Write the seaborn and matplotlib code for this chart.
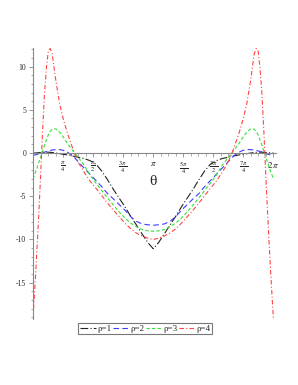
import numpy as np
import pandas as pd
import matplotlib
matplotlib.use("Agg")
import matplotlib.pyplot as plt
import seaborn as sns

#### data ####
theta = [0.0, 0.05, 0.1, 0.15, 0.2, 0.25, 0.3, 0.35, 0.4, 0.45, 0.5, 0.6, 0.7,
         0.8, 0.9, 1.0, 1.1, 1.2, 1.35, 1.5, 1.65, 1.8, 1.95, 2.1, 2.25, 2.4,
         2.55, 2.7, 2.85, 3.0, 3.1416,
         3.2832, 3.4332, 3.5832, 3.7332, 3.8832, 4.0332, 4.1832, 4.3332, 4.4832,
         4.6332, 4.7832, 4.9332, 5.0832, 5.1832, 5.2832, 5.3832, 5.4832, 5.5832,
         5.6832, 5.7832, 5.8332, 5.8832, 5.9332, 5.9832, 6.0332, 6.0832, 6.1332,
         6.1832, 6.2332, 6.2832]

rho1 = [0.0, 0.0, 0.02, 0.04, 0.06, 0.08, 0.1, 0.1, 0.1, 0.08, 0.06, 0.0, -0.08,
        -0.15, -0.22, -0.3, -0.4, -0.5, -0.65, -0.9, -1.3, -2.1, -3.1, -4.2, -5.2,
        -6.2, -7.3, -8.3, -9.35, -10.35, -11.07,
        -10.35, -9.35, -8.3, -7.3, -6.2, -5.2, -4.2, -3.1, -2.1, -1.3, -0.9, -0.65,
        -0.5, -0.4, -0.3, -0.22, -0.15, -0.08, 0.0, 0.06, 0.08, 0.1, 0.1, 0.1, 0.08,
        0.06, 0.04, 0.02, 0.0, 0.0]

rho2 = [-0.25, -0.22, -0.18, -0.12, -0.05, 0.02, 0.1, 0.18, 0.25, 0.3, 0.35, 0.4,
        0.4, 0.3, 0.1, -0.2, -0.6, -1.1, -1.8, -2.5, -3.2, -3.9, -4.7, -5.3, -5.95,
        -6.6, -7.35, -7.9, -8.2, -8.3, -8.35,
        -8.3, -8.2, -7.9, -7.35, -6.6, -5.95, -5.3, -4.7, -3.9, -3.2, -2.5, -1.8,
        -1.1, -0.6, -0.2, 0.1, 0.3, 0.4, 0.4, 0.35, 0.3, 0.25, 0.18, 0.1, 0.02,
        -0.05, -0.12, -0.18, -0.22, -0.25]

rho3 = [-3.0, -2.4, -1.8, -1.1, -0.5, 0.2, 0.9, 1.5, 2.1, 2.5, 2.75, 2.8, 2.4, 1.8,
        1.1, 0.5, -0.05, -0.6, -1.5, -2.6, -3.5, -4.35, -5.2, -6.0, -6.8, -7.5,
        -8.1, -8.5, -8.85, -9.0, -9.05,
        -9.0, -8.85, -8.5, -8.1, -7.5, -6.8, -6.0, -5.2, -4.35, -3.5, -2.6, -1.5,
        -0.6, -0.05, 0.5, 1.1, 1.8, 2.4, 2.8, 2.75, 2.5, 2.1, 1.5, 0.9, 0.2, -0.5,
        -1.1, -1.8, -2.4, -3.0]

rho4 = [-19.2, -15.5, -11.5, -7.2, -2.5, 2.5, 6.8, 9.8, 11.8, 12.1, 11.5, 8.3, 5.6,
        3.8, 2.3, 1.0, -0.2, -1.2, -2.3, -3.3, -4.1, -4.95, -5.8, -6.6, -7.35,
        -8.1, -8.75, -9.25, -9.6, -9.85, -10.0,
        -9.85, -9.6, -9.25, -8.75, -8.1, -7.35, -6.6, -5.8, -4.95, -4.1, -3.3,
        -2.3, -1.2, -0.2, 1.0, 2.3, 3.8, 5.6, 8.3, 11.5, 12.1, 11.8, 9.8, 6.8, 2.5,
        -2.5, -7.2, -11.5, -15.5, -19.2]

names = ["ρ=1", "ρ=2", "ρ=3", "ρ=4"]
xtick_pos = [np.pi / 4, np.pi / 2, 3 * np.pi / 4, np.pi, 5 * np.pi / 4,
             3 * np.pi / 2, 7 * np.pi / 4, 2 * np.pi]
xtick_lab = [r"$\frac{\pi}{4}$", r"$\frac{\pi}{2}$", r"$\frac{3\,\pi}{4}$",
             r"$\pi$", r"$\frac{5\,\pi}{4}$", r"$\frac{3\,\pi}{2}$",
             r"$\frac{7\,\pi}{4}$", r"$2\,\pi$"]
ytick_pos = [-15, -10, -5, 0, 5, 10]

#### long form table ####
frames = []
for name, vals in zip(names, [rho1, rho2, rho3, rho4]):
    frames.append(pd.DataFrame({"theta": theta, "value": vals, "rho": name}))
df = pd.concat(frames, ignore_index=True)

sns.set_style("white")
plt.rcParams["font.family"] = ["Liberation Serif", "DejaVu Serif"]
plt.rcParams["mathtext.fontset"] = "stix"
plt.rcParams["axes.unicode_minus"] = False

palette = {"ρ=1": "#222222", "ρ=2": "#3c3cff", "ρ=3": "#33e033", "ρ=4": "#ff4444"}
dashes = {"ρ=1": (7, 2, 1, 2), "ρ=2": (5, 3), "ρ=3": (3, 2), "ρ=4": (4, 2, 1, 2)}

fig = plt.figure(figsize=(2.98, 3.85), dpi=100)
ax = fig.add_axes([0.1107, 0.1714, 0.8154, 0.7039])
sns.lineplot(data=df, x="theta", y="value", hue="rho", style="rho",
             palette=palette, dashes=dashes, estimator=None, sort=False,
             linewidth=0.8, ax=ax)

ax.set_xlim(0, 6.35)
ax.set_ylim(-19.2, 12.15)
ax.set(xlabel="", ylabel="")

# maple style axes through the origin
for s in ["top", "right"]:
    ax.spines[s].set_visible(False)
ax.spines["left"].set_position(("data", 0))
ax.spines["bottom"].set_position(("data", 0))
for s in ["left", "bottom"]:
    ax.spines[s].set_color("#888888")
    ax.spines[s].set_linewidth(0.8)

ax.set_xticks(xtick_pos)
ax.set_xticklabels(xtick_lab, fontsize=6.5)
ax.set_xticks(np.arange(0, 2 * np.pi + 0.01, np.pi / 16), minor=True)
ax.set_yticks(ytick_pos)
ax.set_yticklabels([str(v) for v in ytick_pos], fontsize=5.5)
ax.set_yticks(np.arange(-19, 13, 1), minor=True)
ax.tick_params(axis="both", which="major", length=3, width=0.6,
               color="#888888", pad=2, bottom=True, left=True)
ax.tick_params(axis="both", which="minor", length=1.8, width=0.5,
               color="#888888", bottom=True, left=True)

ax.text(np.pi, -3.3, "θ", fontsize=11, ha="center", va="center")

handles, labels = ax.get_legend_handles_labels()
ax.get_legend().remove()
leg = fig.legend(handles=handles, labels=labels, ncol=4, loc="center",
                 bbox_to_anchor=(0.4866, 0.1455), fontsize=6.5,
                 handlelength=1.8, handletextpad=0.15, columnspacing=0.15,
                 borderpad=0.15, borderaxespad=0, fancybox=False, framealpha=1)
leg.get_frame().set_edgecolor("#777777")
leg.get_frame().set_linewidth(0.8)

fig.savefig("out.png", dpi=100)
